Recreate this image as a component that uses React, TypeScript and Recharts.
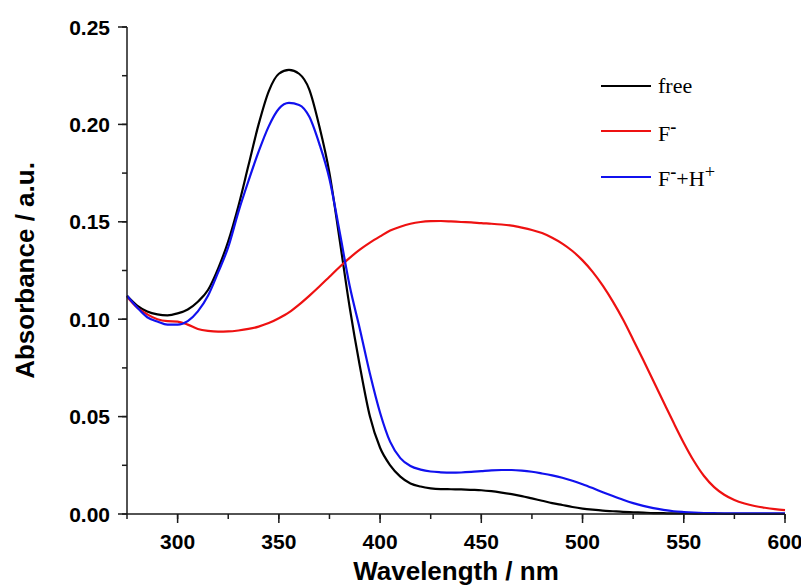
import type { ReactNode } from 'react';
import { Label, Legend, Line, LineChart, XAxis, YAxis } from 'recharts';

// wavelength grid (nm)
const wavelengths = [
  275, 280, 285, 290, 295, 300, 305, 310, 315, 320, 325, 330, 335, 340, 345,
  350, 355, 360, 365, 370, 375, 380, 385, 390, 395, 400, 405, 410, 415, 420,
  425, 430, 435, 440, 445, 450, 455, 460, 465, 470, 475, 480, 485, 490, 495,
  500, 505, 510, 515, 520, 525, 530, 535, 540, 545, 550, 555, 560, 565, 570,
  575, 580, 585, 590, 595, 600,
];

// absorbance of the free receptor
const freeAbs = [
  0.112, 0.107, 0.104, 0.1025, 0.102, 0.103, 0.105, 0.109, 0.115, 0.126, 0.14,
  0.158, 0.179, 0.2, 0.217, 0.226, 0.228, 0.226, 0.218, 0.199, 0.175, 0.141,
  0.106, 0.076, 0.05, 0.034, 0.025, 0.0192, 0.0157, 0.0141, 0.0132, 0.0128,
  0.0127, 0.0126, 0.0124, 0.0122, 0.0117, 0.011, 0.0102, 0.0092, 0.008,
  0.0068, 0.0056, 0.0046, 0.0036, 0.0028, 0.0022, 0.0017, 0.0014, 0.0011,
  0.0009, 0.0007, 0.0005, 0.0004, 0.0003, 0.0003, 0.0002, 0.0002, 0.0002,
  0.0001, 0.0001, 0.0001, 0.0001, 0.0001, 0.0001, 0.0001,
];

// after adding F-
const fluorideAbs = [
  0.1115, 0.106, 0.1025, 0.1, 0.099, 0.0988, 0.0972, 0.095, 0.094, 0.0936,
  0.0937, 0.0942, 0.095, 0.0962, 0.098, 0.1005, 0.1035, 0.1075, 0.112, 0.1168,
  0.1218, 0.1268, 0.1315, 0.1357, 0.1393, 0.1425, 0.1455, 0.1475, 0.149,
  0.1499, 0.1503, 0.1504, 0.1502, 0.1499, 0.1497, 0.1493, 0.149, 0.1486,
  0.148, 0.147, 0.1458, 0.1442, 0.1418, 0.1388, 0.135, 0.1302, 0.1243, 0.1172,
  0.109, 0.0998, 0.0895, 0.079, 0.0683, 0.0575, 0.0468, 0.0365, 0.0272,
  0.0195, 0.0138, 0.0099, 0.0072, 0.0054, 0.0041, 0.0032, 0.0025, 0.002,
];

// F- followed by H+
const fluorideAcidAbs = [
  0.112, 0.106, 0.101, 0.0988, 0.0972, 0.0972, 0.099, 0.104, 0.112, 0.124,
  0.137, 0.155, 0.171, 0.186, 0.199, 0.208, 0.211, 0.21, 0.204, 0.19, 0.172,
  0.145, 0.117, 0.095, 0.072, 0.052, 0.037, 0.0287, 0.0246, 0.0228, 0.0218,
  0.0214, 0.0212, 0.0213, 0.0216, 0.022, 0.0224, 0.0226, 0.0226, 0.0223,
  0.0217, 0.0208, 0.0198, 0.0186, 0.0171, 0.0153, 0.0133, 0.0112, 0.0092,
  0.0073, 0.0056, 0.0042, 0.003, 0.0021, 0.0014, 0.001, 0.0007, 0.0005, 0.0004,
  0.0003, 0.0003, 0.0003, 0.0003, 0.0003, 0.0003, 0.0003,
];

const xTicks = [
  275, 300, 325, 350, 375, 400, 425, 450, 475, 500, 525, 550, 575, 600,
];
const yTicks = [
  0, 0.025, 0.05, 0.075, 0.1, 0.125, 0.15, 0.175, 0.2, 0.225, 0.25,
];

const seriesOrder = ['free', 'fluoride', 'fluorideAcid'];

const data = wavelengths.map((nm, i) => ({
  nm,
  free: freeAbs[i],
  fluoride: fluorideAbs[i],
  fluorideAcid: fluorideAcidAbs[i],
}));

const AXIS = '#1a1a1a';
const SANS = '"Liberation Sans", Arial, sans-serif';
const SERIF = '"Liberation Serif", "Times New Roman", serif';
const MINOR = 5;
const MAJOR = 9;

const legendLabels: Record<string, ReactNode> = {
  free: 'free',
  fluoride: (
    <>
      F<sup style={{ fontWeight: 700 }}>-</sup>
    </>
  ),
  fluorideAcid: (
    <>
      F<sup style={{ fontWeight: 700 }}>-</sup>+H<sup>+</sup>
    </>
  ),
};

// native tick lines give the minor length; majors get extended here
function XTick({ x, y, payload }: any) {
  const major = payload.value % 50 === 0;
  if (!major) return <g />;
  return (
    <g>
      <path d={`M${x},${y - MINOR}V${y - MINOR + MAJOR}`} stroke={AXIS} strokeWidth={1.5} fill='none' />
      <text x={x} y={y + 30} textAnchor='middle' fontFamily={SANS} fontWeight={700} fontSize={21} fill='#000'>
        {payload.value}
      </text>
    </g>
  );
}

function YTick({ x, y, payload }: any) {
  const major = Math.round(payload.value * 1000) % 50 === 0;
  if (!major) return <g />;
  return (
    <g>
      <path d={`M${x + MINOR},${y}H${x + MINOR - MAJOR}`} stroke={AXIS} strokeWidth={1.5} fill='none' />
      <text x={x - 12} y={y} dy='0.36em' textAnchor='end' fontFamily={SANS} fontWeight={700} fontSize={21} fill='#000'>
        {payload.value.toFixed(2)}
      </text>
    </g>
  );
}

function YTitle({ viewBox }: any) {
  const cy = viewBox.y + viewBox.height / 2;
  return (
    <text
      x={17}
      y={cy}
      transform={`rotate(-90 17 ${cy})`}
      textAnchor='middle'
      dominantBaseline='central'
      fontFamily={SANS}
      fontWeight={700}
      fontSize={26}
      fill='#000'
    >
      Absorbance / a.u.
    </text>
  );
}

function SpectraLegend({ payload }: any) {
  const items = [...payload].sort(
    (a: any, b: any) => seriesOrder.indexOf(a.dataKey) - seriesOrder.indexOf(b.dataKey),
  );
  return (
    <div style={{ fontFamily: SERIF, fontSize: 22, color: '#000' }}>
      {items.map((entry: any) => (
        <div key={entry.dataKey} style={{ display: 'flex', alignItems: 'center', height: 45.5 }}>
          <span style={{ display: 'inline-block', width: 50, height: 2, background: entry.color, marginRight: 7 }} />
          <span style={{ lineHeight: 1 }}>{legendLabels[entry.dataKey]}</span>
        </div>
      ))}
    </div>
  );
}

export default function App() {
  return (
    <LineChart
      width={801}
      height={580}
      data={data}
      margin={{ top: 19, right: 24, bottom: 0, left: 0 }}
      style={{ background: '#fff' }}
    >
      <XAxis
        dataKey='nm'
        type='number'
        domain={[275, 600]}
        ticks={xTicks}
        interval={0}
        height={74}
        tickSize={MINOR}
        tickMargin={0}
        tickLine={{ stroke: AXIS, strokeWidth: 1.5 }}
        tick={<XTick />}
        axisLine={{ stroke: AXIS, strokeWidth: 1.5 }}
      >
        <Label
          value='Wavelength / nm'
          position='insideBottom'
          offset={8}
          fontFamily={SANS}
          fontWeight={700}
          fontSize={26}
          fill='#000'
        />
      </XAxis>
      <XAxis
        xAxisId='top'
        orientation='top'
        dataKey='nm'
        type='number'
        domain={[275, 600]}
        height={0}
        tick={false}
        tickLine={false}
        axisLine={{ stroke: AXIS, strokeWidth: 1.5 }}
      />
      <YAxis
        type='number'
        domain={[0, 0.25]}
        ticks={yTicks}
        interval={0}
        width={119}
        tickSize={MINOR}
        tickMargin={0}
        tickLine={{ stroke: AXIS, strokeWidth: 1.5 }}
        tick={<YTick />}
        axisLine={{ stroke: AXIS, strokeWidth: 1.5 }}
      >
        <Label content={<YTitle />} />
      </YAxis>
      <YAxis
        yAxisId='right'
        orientation='right'
        type='number'
        domain={[0, 0.25]}
        width={0}
        tick={false}
        tickLine={false}
        axisLine={{ stroke: AXIS, strokeWidth: 1.5 }}
      />
      <Legend
        layout='vertical'
        align='center'
        verticalAlign='middle'
        wrapperStyle={{ left: 593, top: 55, width: 'auto' }}
        content={<SpectraLegend />}
      />
      <Line
        dataKey='free'
        name='free'
        type='monotone'
        stroke='#000000'
        strokeWidth={2.2}
        dot={false}
        isAnimationActive={false}
      />
      <Line
        dataKey='fluoride'
        name='F-'
        type='monotone'
        stroke='#ee1111'
        strokeWidth={2.2}
        dot={false}
        isAnimationActive={false}
      />
      <Line
        dataKey='fluorideAcid'
        name='F-+H+'
        type='monotone'
        stroke='#1111ee'
        strokeWidth={2.2}
        dot={false}
        isAnimationActive={false}
      />
    </LineChart>
  );
}
